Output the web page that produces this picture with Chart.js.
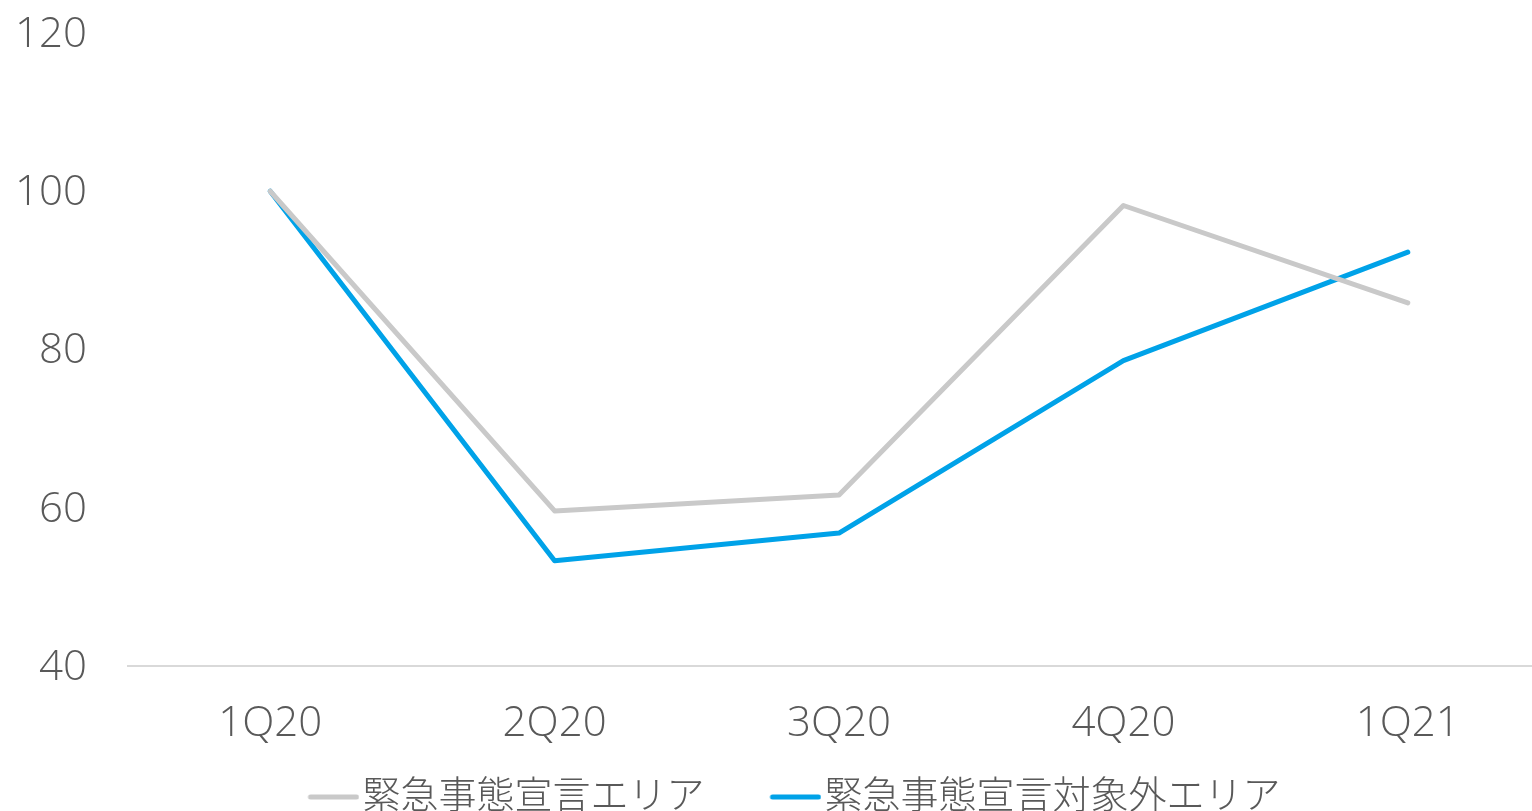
<!DOCTYPE html>
<html>
<head>
<meta charset="utf-8">
<script src="https://cdn.jsdelivr.net/npm/chart.js@4/dist/chart.umd.min.js"></script>
<style>
  html, body { margin: 0; padding: 0; background: #fff; overflow: hidden; }
  #wrap { width: 1532px; height: 811px; overflow: hidden; }
</style>
</head>
<body>
<div id="wrap"><canvas id="myChart" width="1550" height="811"></canvas></div>
<script>
const labels = ['1Q20', '2Q20', '3Q20', '4Q20', '1Q21'];
const seriesNames = ['緊急事態宣言エリア', '緊急事態宣言対象外エリア'];
const declaredArea = [100, 59.6, 61.6, 98.2, 85.9];
const otherArea = [100, 53.3, 56.8, 78.6, 92.3];
const yTicks = [40, 60, 80, 100, 120];

const grayColor = '#C9C9C9';
const blueColor = '#00A2E8';
const textColor = '#595959';
const fontFamily = "'Open Sans', 'Noto Sans CJK JP', sans-serif";

// legend swatch: short rounded line on the right part of a wider image,
// so the legend text sits right next to it
function swatch(color) {
  const c = document.createElement('canvas');
  c.width = 106; c.height = 8;
  const g = c.getContext('2d');
  g.strokeStyle = color;
  g.lineWidth = 5;
  g.lineCap = 'round';
  g.beginPath();
  g.moveTo(57, 4);
  g.lineTo(103, 4);
  g.stroke();
  return c;
}

const data = {
  labels,
  datasets: [
    {
      label: seriesNames[0],
      data: declaredArea,
      borderColor: grayColor,
      backgroundColor: grayColor,
      borderWidth: 5,
      borderCapStyle: 'round',
      borderJoinStyle: 'round',
      pointRadius: 0,
      tension: 0,
      pointStyle: swatch(grayColor),
    },
    {
      label: seriesNames[1],
      data: otherArea,
      borderColor: blueColor,
      backgroundColor: blueColor,
      borderWidth: 5,
      borderCapStyle: 'round',
      borderJoinStyle: 'round',
      pointRadius: 0,
      tension: 0,
      pointStyle: swatch(blueColor),
    }
  ],
};

const config = {
  type: 'line',
  data: data,
  options: {
    responsive: false,
    animation: false,
    layout: { padding: { top: 33, left: 0, right: 0, bottom: -15 } },
    scales: {
      x: {
        offset: true,
        afterFit: (scale) => { scale.height = 85; },
        grid: { display: false, drawTicks: false },
        border: { display: true, color: '#D9D9D9', width: 2 },
        ticks: { color: textColor, font: { family: fontFamily, size: 42, weight: 300 }, padding: 33 },
      },
      y: {
        min: 40,
        max: 120,
        afterBuildTicks: (scale) => { scale.ticks = yTicks.map(v => ({ value: v })); },
        afterFit: (scale) => { scale.width = 128; },
        grid: { display: true, drawOnChartArea: false, drawTicks: true, tickLength: 41, color: 'rgba(0,0,0,0)' },
        border: { display: false },
        ticks: { color: textColor, font: { family: fontFamily, size: 42, weight: 300 }, padding: 0, labelOffset: 2 },
      },
    },
    plugins: {
      legend: {
        position: 'bottom',
        labels: {
          usePointStyle: true,
          pointStyleWidth: 74,
          color: textColor,
          font: { family: fontFamily, size: 38, weight: 300 },
          padding: 27,
        },
      },
      tooltip: { enabled: false },
    }
  },
};
const ctx = document.getElementById('myChart');
const myChart = new Chart(ctx, config);
</script>
</body>
</html>
